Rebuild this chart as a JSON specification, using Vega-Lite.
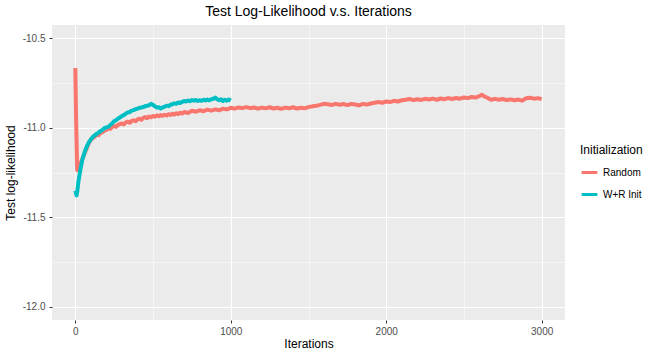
{
  "$schema": "https://vega.github.io/schema/vega-lite/v6.json",
  "width": 513,
  "height": 295,
  "autosize": {"type": "none"},
  "padding": {"left": 52, "top": 25, "right": 100, "bottom": 36},
  "background": "white",
  "title": {"text": "Test Log-Likelihood v.s. Iterations", "fontSize": 14, "font": "Liberation Sans", "fontWeight": "normal", "color": "black", "offset": 6, "frame": "group", "anchor": "middle"},
  "config": {
    "view": {"fill": "#EBEBEB", "stroke": null},
    "font": "Liberation Sans",
    "axis": {"domain": false, "gridColor": "white", "tickColor": "#333333", "tickSize": 3, "labelColor": "#4D4D4D", "labelFontSize": 10, "titleFontSize": 12, "titleFontWeight": "normal", "titleColor": "black", "labelPadding": 3}
  },
  "data": {"values": [
    {"x":0,"y":-10.666,"s":"Random"},{"x":5,"y":-10.95,"s":"Random"},{"x":12,"y":-11.237,"s":"Random"},{"x":25,"y":-11.212,"s":"Random"},{"x":37,"y":-11.192,"s":"Random"},{"x":50,"y":-11.165,"s":"Random"},{"x":62,"y":-11.138,"s":"Random"},{"x":75,"y":-11.112,"s":"Random"},{"x":87,"y":-11.085,"s":"Random"},{"x":100,"y":-11.066,"s":"Random"},{"x":112,"y":-11.058,"s":"Random"},{"x":125,"y":-11.049,"s":"Random"},{"x":137,"y":-11.037,"s":"Random"},{"x":150,"y":-11.041,"s":"Random"},{"x":162,"y":-11.028,"s":"Random"},{"x":175,"y":-11.024,"s":"Random"},{"x":187,"y":-11.016,"s":"Random"},{"x":200,"y":-11.012,"s":"Random"},{"x":212,"y":-11.003,"s":"Random"},{"x":225,"y":-11.006,"s":"Random"},{"x":237,"y":-10.995,"s":"Random"},{"x":250,"y":-10.991,"s":"Random"},{"x":262,"y":-10.994,"s":"Random"},{"x":275,"y":-10.983,"s":"Random"},{"x":287,"y":-10.979,"s":"Random"},{"x":300,"y":-10.976,"s":"Random"},{"x":312,"y":-10.981,"s":"Random"},{"x":325,"y":-10.970,"s":"Random"},{"x":337,"y":-10.966,"s":"Random"},{"x":350,"y":-10.972,"s":"Random"},{"x":362,"y":-10.962,"s":"Random"},{"x":375,"y":-10.958,"s":"Random"},{"x":387,"y":-10.963,"s":"Random"},{"x":400,"y":-10.953,"s":"Random"},{"x":412,"y":-10.949,"s":"Random"},{"x":425,"y":-10.955,"s":"Random"},{"x":437,"y":-10.944,"s":"Random"},{"x":450,"y":-10.940,"s":"Random"},{"x":462,"y":-10.946,"s":"Random"},{"x":475,"y":-10.937,"s":"Random"},{"x":487,"y":-10.941,"s":"Random"},{"x":500,"y":-10.934,"s":"Random"},{"x":512,"y":-10.938,"s":"Random"},{"x":525,"y":-10.930,"s":"Random"},{"x":537,"y":-10.935,"s":"Random"},{"x":550,"y":-10.929,"s":"Random"},{"x":562,"y":-10.933,"s":"Random"},{"x":575,"y":-10.927,"s":"Random"},{"x":587,"y":-10.931,"s":"Random"},{"x":600,"y":-10.924,"s":"Random"},{"x":612,"y":-10.928,"s":"Random"},{"x":625,"y":-10.921,"s":"Random"},{"x":637,"y":-10.926,"s":"Random"},{"x":650,"y":-10.919,"s":"Random"},{"x":662,"y":-10.923,"s":"Random"},{"x":675,"y":-10.916,"s":"Random"},{"x":687,"y":-10.920,"s":"Random"},{"x":700,"y":-10.912,"s":"Random"},{"x":725,"y":-10.917,"s":"Random"},{"x":750,"y":-10.905,"s":"Random"},{"x":775,"y":-10.910,"s":"Random"},{"x":800,"y":-10.902,"s":"Random"},{"x":825,"y":-10.907,"s":"Random"},{"x":850,"y":-10.898,"s":"Random"},{"x":875,"y":-10.904,"s":"Random"},{"x":900,"y":-10.897,"s":"Random"},{"x":925,"y":-10.902,"s":"Random"},{"x":950,"y":-10.893,"s":"Random"},{"x":975,"y":-10.897,"s":"Random"},{"x":1000,"y":-10.888,"s":"Random"},{"x":1025,"y":-10.893,"s":"Random"},{"x":1050,"y":-10.886,"s":"Random"},{"x":1075,"y":-10.890,"s":"Random"},{"x":1100,"y":-10.884,"s":"Random"},{"x":1125,"y":-10.890,"s":"Random"},{"x":1150,"y":-10.886,"s":"Random"},{"x":1175,"y":-10.893,"s":"Random"},{"x":1200,"y":-10.887,"s":"Random"},{"x":1225,"y":-10.891,"s":"Random"},{"x":1250,"y":-10.885,"s":"Random"},{"x":1275,"y":-10.892,"s":"Random"},{"x":1300,"y":-10.888,"s":"Random"},{"x":1325,"y":-10.894,"s":"Random"},{"x":1350,"y":-10.887,"s":"Random"},{"x":1375,"y":-10.891,"s":"Random"},{"x":1400,"y":-10.885,"s":"Random"},{"x":1425,"y":-10.892,"s":"Random"},{"x":1450,"y":-10.888,"s":"Random"},{"x":1475,"y":-10.891,"s":"Random"},{"x":1500,"y":-10.884,"s":"Random"},{"x":1525,"y":-10.880,"s":"Random"},{"x":1550,"y":-10.877,"s":"Random"},{"x":1575,"y":-10.872,"s":"Random"},{"x":1600,"y":-10.866,"s":"Random"},{"x":1625,"y":-10.868,"s":"Random"},{"x":1650,"y":-10.872,"s":"Random"},{"x":1675,"y":-10.866,"s":"Random"},{"x":1700,"y":-10.871,"s":"Random"},{"x":1725,"y":-10.867,"s":"Random"},{"x":1750,"y":-10.873,"s":"Random"},{"x":1775,"y":-10.866,"s":"Random"},{"x":1800,"y":-10.870,"s":"Random"},{"x":1825,"y":-10.874,"s":"Random"},{"x":1850,"y":-10.866,"s":"Random"},{"x":1875,"y":-10.870,"s":"Random"},{"x":1900,"y":-10.864,"s":"Random"},{"x":1925,"y":-10.860,"s":"Random"},{"x":1950,"y":-10.856,"s":"Random"},{"x":1975,"y":-10.860,"s":"Random"},{"x":2000,"y":-10.853,"s":"Random"},{"x":2025,"y":-10.856,"s":"Random"},{"x":2050,"y":-10.849,"s":"Random"},{"x":2075,"y":-10.853,"s":"Random"},{"x":2100,"y":-10.846,"s":"Random"},{"x":2125,"y":-10.843,"s":"Random"},{"x":2150,"y":-10.839,"s":"Random"},{"x":2175,"y":-10.845,"s":"Random"},{"x":2200,"y":-10.840,"s":"Random"},{"x":2225,"y":-10.844,"s":"Random"},{"x":2250,"y":-10.838,"s":"Random"},{"x":2275,"y":-10.842,"s":"Random"},{"x":2300,"y":-10.837,"s":"Random"},{"x":2325,"y":-10.843,"s":"Random"},{"x":2350,"y":-10.836,"s":"Random"},{"x":2375,"y":-10.840,"s":"Random"},{"x":2400,"y":-10.834,"s":"Random"},{"x":2425,"y":-10.839,"s":"Random"},{"x":2450,"y":-10.833,"s":"Random"},{"x":2475,"y":-10.837,"s":"Random"},{"x":2500,"y":-10.830,"s":"Random"},{"x":2525,"y":-10.834,"s":"Random"},{"x":2550,"y":-10.828,"s":"Random"},{"x":2575,"y":-10.831,"s":"Random"},{"x":2600,"y":-10.822,"s":"Random"},{"x":2615,"y":-10.815,"s":"Random"},{"x":2630,"y":-10.824,"s":"Random"},{"x":2650,"y":-10.832,"s":"Random"},{"x":2675,"y":-10.843,"s":"Random"},{"x":2700,"y":-10.838,"s":"Random"},{"x":2725,"y":-10.843,"s":"Random"},{"x":2750,"y":-10.839,"s":"Random"},{"x":2775,"y":-10.845,"s":"Random"},{"x":2800,"y":-10.841,"s":"Random"},{"x":2825,"y":-10.846,"s":"Random"},{"x":2850,"y":-10.842,"s":"Random"},{"x":2875,"y":-10.848,"s":"Random"},{"x":2900,"y":-10.835,"s":"Random"},{"x":2925,"y":-10.832,"s":"Random"},{"x":2950,"y":-10.837,"s":"Random"},{"x":2975,"y":-10.834,"s":"Random"},{"x":3000,"y":-10.840,"s":"Random"},
    {"x":1,"y":-11.352,"s":"W+R Init"},{"x":5,"y":-11.370,"s":"W+R Init"},{"x":8,"y":-11.378,"s":"W+R Init"},{"x":12,"y":-11.360,"s":"W+R Init"},{"x":20,"y":-11.300,"s":"W+R Init"},{"x":32,"y":-11.237,"s":"W+R Init"},{"x":45,"y":-11.180,"s":"W+R Init"},{"x":55,"y":-11.150,"s":"W+R Init"},{"x":64,"y":-11.126,"s":"W+R Init"},{"x":75,"y":-11.103,"s":"W+R Init"},{"x":87,"y":-11.082,"s":"W+R Init"},{"x":100,"y":-11.065,"s":"W+R Init"},{"x":112,"y":-11.052,"s":"W+R Init"},{"x":125,"y":-11.042,"s":"W+R Init"},{"x":137,"y":-11.034,"s":"W+R Init"},{"x":150,"y":-11.027,"s":"W+R Init"},{"x":162,"y":-11.018,"s":"W+R Init"},{"x":175,"y":-11.012,"s":"W+R Init"},{"x":187,"y":-11.002,"s":"W+R Init"},{"x":200,"y":-10.998,"s":"W+R Init"},{"x":212,"y":-10.995,"s":"W+R Init"},{"x":225,"y":-10.984,"s":"W+R Init"},{"x":237,"y":-10.976,"s":"W+R Init"},{"x":250,"y":-10.962,"s":"W+R Init"},{"x":262,"y":-10.958,"s":"W+R Init"},{"x":275,"y":-10.948,"s":"W+R Init"},{"x":287,"y":-10.942,"s":"W+R Init"},{"x":300,"y":-10.934,"s":"W+R Init"},{"x":312,"y":-10.929,"s":"W+R Init"},{"x":325,"y":-10.921,"s":"W+R Init"},{"x":337,"y":-10.914,"s":"W+R Init"},{"x":350,"y":-10.912,"s":"W+R Init"},{"x":362,"y":-10.904,"s":"W+R Init"},{"x":375,"y":-10.901,"s":"W+R Init"},{"x":387,"y":-10.896,"s":"W+R Init"},{"x":400,"y":-10.893,"s":"W+R Init"},{"x":412,"y":-10.889,"s":"W+R Init"},{"x":425,"y":-10.886,"s":"W+R Init"},{"x":437,"y":-10.884,"s":"W+R Init"},{"x":450,"y":-10.879,"s":"W+R Init"},{"x":462,"y":-10.877,"s":"W+R Init"},{"x":475,"y":-10.873,"s":"W+R Init"},{"x":487,"y":-10.866,"s":"W+R Init"},{"x":500,"y":-10.872,"s":"W+R Init"},{"x":512,"y":-10.880,"s":"W+R Init"},{"x":525,"y":-10.887,"s":"W+R Init"},{"x":537,"y":-10.885,"s":"W+R Init"},{"x":550,"y":-10.892,"s":"W+R Init"},{"x":562,"y":-10.886,"s":"W+R Init"},{"x":575,"y":-10.882,"s":"W+R Init"},{"x":587,"y":-10.876,"s":"W+R Init"},{"x":600,"y":-10.879,"s":"W+R Init"},{"x":612,"y":-10.871,"s":"W+R Init"},{"x":625,"y":-10.868,"s":"W+R Init"},{"x":637,"y":-10.863,"s":"W+R Init"},{"x":650,"y":-10.866,"s":"W+R Init"},{"x":662,"y":-10.858,"s":"W+R Init"},{"x":675,"y":-10.861,"s":"W+R Init"},{"x":687,"y":-10.855,"s":"W+R Init"},{"x":700,"y":-10.850,"s":"W+R Init"},{"x":712,"y":-10.853,"s":"W+R Init"},{"x":725,"y":-10.848,"s":"W+R Init"},{"x":737,"y":-10.851,"s":"W+R Init"},{"x":750,"y":-10.845,"s":"W+R Init"},{"x":762,"y":-10.848,"s":"W+R Init"},{"x":775,"y":-10.844,"s":"W+R Init"},{"x":787,"y":-10.850,"s":"W+R Init"},{"x":800,"y":-10.846,"s":"W+R Init"},{"x":812,"y":-10.849,"s":"W+R Init"},{"x":825,"y":-10.843,"s":"W+R Init"},{"x":837,"y":-10.847,"s":"W+R Init"},{"x":850,"y":-10.842,"s":"W+R Init"},{"x":862,"y":-10.846,"s":"W+R Init"},{"x":875,"y":-10.840,"s":"W+R Init"},{"x":887,"y":-10.838,"s":"W+R Init"},{"x":900,"y":-10.831,"s":"W+R Init"},{"x":912,"y":-10.840,"s":"W+R Init"},{"x":925,"y":-10.846,"s":"W+R Init"},{"x":937,"y":-10.840,"s":"W+R Init"},{"x":950,"y":-10.850,"s":"W+R Init"},{"x":962,"y":-10.843,"s":"W+R Init"},{"x":975,"y":-10.848,"s":"W+R Init"},{"x":987,"y":-10.842,"s":"W+R Init"},{"x":1000,"y":-10.849,"s":"W+R Init"}
  ]},
  "mark": {"type": "line", "strokeWidth": 4, "strokeJoin": "round", "strokeCap": "butt"},
  "encoding": {
    "x": {"field": "x", "type": "quantitative", "title": "Iterations",
      "scale": {"domain": [-150, 3150], "nice": false, "zero": false},
      "axis": {"values": [0, 500, 1000, 1500, 2000, 2500, 3000],
        "labelExpr": "datum.value % 1000 == 0 ? datum.label : ''",
        "format": "d", "labelFlush": false, "labelOverlap": false,
        "gridWidth": {"condition": {"test": "datum.value % 1000 == 0", "value": 1.1}, "value": 0.5},
        "tickOpacity": {"condition": {"test": "datum.value % 1000 == 0", "value": 1}, "value": 0},
        "titlePadding": 2}},
    "y": {"field": "y", "type": "quantitative", "title": "Test log-likelihood",
      "scale": {"domain": [-12.075, -10.425], "nice": false, "zero": false},
      "axis": {"values": [-12, -11.75, -11.5, -11.25, -11, -10.75, -10.5],
        "labelExpr": "datum.value * 2 == round(datum.value * 2) ? replace(format(datum.value, '.1f'), '\u2212', '-') : ''",
        "labelFlush": false, "labelOverlap": false, "labelPadding": 4,
        "gridWidth": {"condition": {"test": "datum.value * 2 == round(datum.value * 2)", "value": 1.1}, "value": 0.5},
        "tickOpacity": {"condition": {"test": "datum.value * 2 == round(datum.value * 2)", "value": 1}, "value": 0},
        "titlePadding": 5}},
    "color": {"field": "s", "type": "nominal",
      "scale": {"domain": ["Random", "W+R Init"], "range": ["#F8766D", "#00BFC4"]},
      "legend": {"title": "Initialization", "orient": "none", "legendX": 528, "legendY": 120,
        "titleFontSize": 12, "titleFontWeight": "normal", "titleColor": "black",
        "labelFontSize": 10, "labelColor": "black", "symbolType": "stroke",
        "symbolStrokeWidth": 3, "symbolSize": 250, "rowPadding": 6, "titlePadding": 6}}
  }
}
